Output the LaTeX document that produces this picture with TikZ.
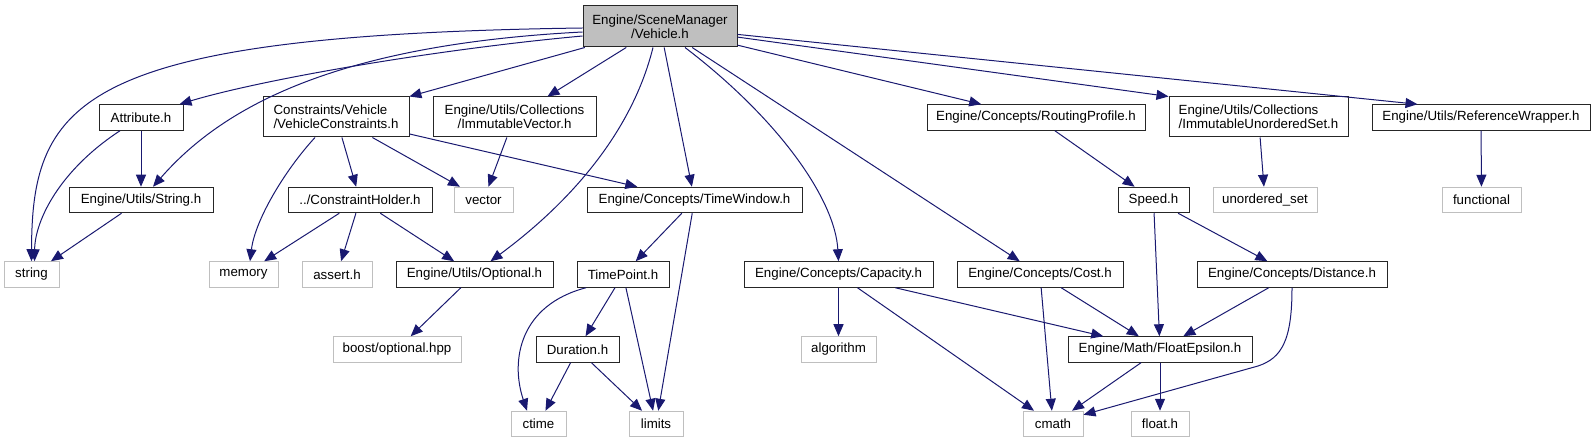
\documentclass[tikz,border=0pt]{standalone}
\usepackage{fontspec}
\setmainfont{Liberation Sans}
\usepackage{tikz}
\usetikzlibrary{arrows.meta}

\definecolor{edgeblue}{RGB}{25,25,112}
\definecolor{grey75}{RGB}{191,191,191}

\begin{document}
\begin{tikzpicture}[x=1pt,y=-1pt,
            hdr/.style={draw=black!85,line width=1pt,inner sep=0pt,minimum height=25.5pt,
                        font=\fontsize{13.3}{14}\selectfont,align=center},
            sys/.style={hdr,draw=grey75},
            rootbox/.style={hdr,fill=grey75,minimum height=41pt},
            dep/.style={draw=edgeblue,line width=1pt,-{Triangle[length=12pt,width=10pt]}}]
            \useasboundingbox (0,0) rectangle (1595,443);

            % root
            \node[rootbox,minimum width=154pt] (veh) at (660,26.5) {Engine/SceneManager\\/Vehicle.h};

            % first row
            \node[hdr,minimum width=84pt] (attr) at (141,117.5) {Attribute.h};
            \node[hdr,minimum width=146pt,minimum height=40pt,align=left] (vcons) at (336,117) {Constraints/Vehicle\\/VehicleConstraints.h};
            \node[hdr,minimum width=163pt,minimum height=40pt] (ivec) at (514.5,117) {Engine/Utils/Collections\\/ImmutableVector.h};
            \node[hdr,minimum width=218pt] (rprof) at (1036,117.5) {Engine/Concepts/RoutingProfile.h};
            \node[hdr,minimum width=179pt,minimum height=40pt,align=left] (iuset) at (1258.5,117) {Engine/Utils/Collections\\/ImmutableUnorderedSet.h};
            \node[hdr,minimum width=218pt] (rwrap) at (1481,117.5) {Engine/Utils/ReferenceWrapper.h};

            % second row
            \node[hdr,minimum width=144pt] (strh) at (141,200) {Engine/Utils/String.h};
            \node[hdr,minimum width=144pt] (choldr) at (360,200) {../ConstraintHolder.h};
            \node[sys,minimum width=59pt] (vector) at (483.5,200) {vector};
            \node[hdr,minimum width=215pt] (twin) at (694.5,200) {Engine/Concepts/TimeWindow.h};
            \node[hdr,minimum width=71pt] (speed) at (1153.5,200) {Speed.h};
            \node[sys,minimum width=104pt] (uset) at (1265,200) {unordered\_set};
            \node[sys,minimum width=79pt] (func) at (1481.5,200) {functional};

            % third row
            \node[sys,minimum width=55pt] (string) at (31.5,274.5) {string};
            \node[sys,minimum width=69pt] (memory) at (243.5,274.5) {memory};
            \node[sys,minimum width=70pt] (assert) at (337,274.5) {assert.h};
            \node[hdr,minimum width=157pt] (opt) at (474.5,274.5) {Engine/Utils/Optional.h};
            \node[hdr,minimum width=92pt] (tpoint) at (623,274.5) {TimePoint.h};
            \node[hdr,minimum width=189pt] (cap) at (838.5,274.5) {Engine/Concepts/Capacity.h};
            \node[hdr,minimum width=166pt] (cost) at (1040,274.5) {Engine/Concepts/Cost.h};
            \node[hdr,minimum width=190pt] (dist) at (1292,274.5) {Engine/Concepts/Distance.h};

            % fourth row
            \node[sys,minimum width=128pt] (boost) at (397,349.5) {boost/optional.hpp};
            \node[hdr,minimum width=83pt] (dur) at (577.5,349.5) {Duration.h};
            \node[sys,minimum width=75pt] (algo) at (838.5,349.5) {algorithm};
            \node[hdr,minimum width=184pt] (feps) at (1160,349.5) {Engine/Math/FloatEpsilon.h};

            % fifth row
            \node[sys,minimum width=55pt] (ctime) at (538.5,424) {ctime};
            \node[sys,minimum width=54pt] (limits) at (656,424) {limits};
            \node[sys,minimum width=60pt] (cmath) at (1053,424) {cmath};
            \node[sys,minimum width=58pt] (floath) at (1160,424) {float.h};

            % includes of Vehicle.h
            \draw[dep] ([yshift=-1.5pt]veh.west) .. controls (80,35) and (32,100) .. (string.north);
            \draw[dep] ([yshift=-5.5pt]veh.west) .. controls (330,45) and (220,110) .. ([xshift=12pt]strh.north);
            \draw[dep] ([yshift=-9.5pt]veh.west) .. controls (430,50) and (260,80) .. ([xshift=-4pt]attr.north east);
            \draw[dep] (veh) -- (vcons);
            \draw[dep] (veh) -- (ivec);
            \draw[dep] ([xshift=-7pt]veh.south) .. controls (630,140) and (560,210) .. ([xshift=16pt]opt.north);
            \draw[dep] (veh) -- (twin);
            \draw[dep] ([xshift=25pt]veh.south) .. controls (780,120) and (835,200) .. (cap.north);
            \draw[dep] (veh) -- (cost);
            \draw[dep] (veh) -- (rprof);
            \draw[dep] (veh) -- (iuset.north west);
            \draw[dep] (veh) -- ([xshift=46pt]rwrap.north west);

            % the rest
            \draw[dep] (attr) -- (strh);
            \draw[dep] ([xshift=-21pt]attr.south) .. controls (60,170) and (35,220) .. ([xshift=3pt]string.north);
            \draw[dep] (strh) -- (string);
            \draw[dep] ([xshift=-21pt]vcons.south) .. controls (285,170) and (255,220) .. ([xshift=6.5pt]memory.north);
            \draw[dep] (vcons) -- (choldr);
            \draw[dep] (vcons) -- (vector);
            \draw[dep] (vcons) -- (twin);
            \draw[dep] (ivec) -- (vector);
            \draw[dep] (choldr) -- (memory);
            \draw[dep] (choldr) -- (assert);
            \draw[dep] (choldr) -- (opt);
            \draw[dep] (opt) -- (boost);
            \draw[dep] (twin) -- (tpoint);
            \draw[dep] (twin) -- (limits);
            \draw[dep] ([xshift=-37pt]tpoint.south) .. controls (520,305) and (510,360) .. ([xshift=-11.5pt]ctime.north);
            \draw[dep] (tpoint) -- (dur);
            \draw[dep] (tpoint) -- (limits);
            \draw[dep] (dur) -- (ctime);
            \draw[dep] (dur) -- (limits);
            \draw[dep] (cap) -- (algo);
            \draw[dep] (cap) -- (cmath);
            \draw[dep] (cap) -- (feps);
            \draw[dep] (cost) -- (cmath);
            \draw[dep] (cost) -- (feps);
            \draw[dep] (rprof) -- (speed);
            \draw[dep] (speed) -- (feps);
            \draw[dep] (speed) -- (dist);
            \draw[dep] (dist) -- (feps);
            \draw[dep] (dist.south) .. controls (1292,340) and (1282,358) .. (1258,366) -- ([yshift=-4pt]cmath.north east);
            \draw[dep] (feps) -- (cmath);
            \draw[dep] (feps) -- (floath);
            \draw[dep] (iuset) -- (uset);
            \draw[dep] (rwrap) -- (func);
\end{tikzpicture}
\end{document}
